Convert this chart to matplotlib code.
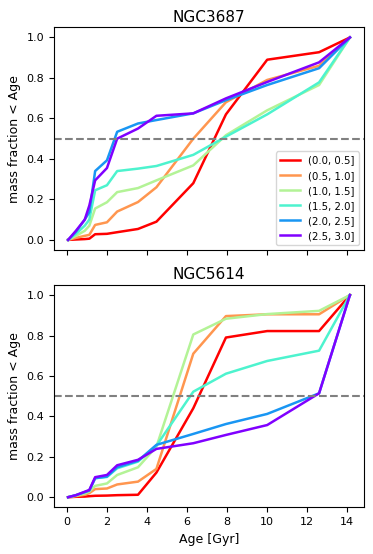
import matplotlib
matplotlib.use("Agg")
import matplotlib.pyplot as plt
import numpy as np

# age grid (Gyr)
ages = np.array([0.06, 0.45, 0.89, 1.12, 1.41, 2.0, 2.51, 3.55, 4.47, 6.31, 7.94, 10.0, 12.59, 14.13])

bins = ['(0.0, 0.5]', '(0.5, 1.0]', '(1.0, 1.5]', '(1.5, 2.0]', '(2.0, 2.5]', '(2.5, 3.0]']

# NGC3687 cumulative mass fractions
ngc3687 = [
    [0, 0.002, 0.004, 0.006, 0.028, 0.03, 0.038, 0.054, 0.09, 0.28, 0.62, 0.89, 0.927, 1.0],
    [0, 0.01, 0.02, 0.025, 0.074, 0.087, 0.14, 0.187, 0.26, 0.50, 0.68, 0.79, 0.86, 1.0],
    [0, 0.02, 0.045, 0.07, 0.155, 0.186, 0.236, 0.256, 0.294, 0.368, 0.517, 0.64, 0.765, 1.0],
    [0, 0.03, 0.07, 0.10, 0.245, 0.27, 0.34, 0.352, 0.365, 0.42, 0.51, 0.62, 0.778, 1.0],
    [0, 0.04, 0.10, 0.137, 0.34, 0.393, 0.534, 0.575, 0.592, 0.625, 0.69, 0.765, 0.848, 1.0],
    [0, 0.045, 0.10, 0.17, 0.294, 0.355, 0.50, 0.55, 0.613, 0.625, 0.699, 0.78, 0.877, 1.0],
]

# NGC5614 cumulative mass fractions
ngc5614 = [
    [0, 0.002, 0.003, 0.005, 0.007, 0.008, 0.01, 0.012, 0.122, 0.44, 0.79, 0.822, 0.822, 1.0],
    [0, 0.005, 0.012, 0.02, 0.04, 0.043, 0.063, 0.077, 0.14, 0.71, 0.896, 0.905, 0.905, 1.0],
    [0, 0.008, 0.018, 0.028, 0.056, 0.068, 0.11, 0.148, 0.25, 0.805, 0.883, 0.906, 0.922, 1.0],
    [0, 0.01, 0.025, 0.033, 0.094, 0.10, 0.143, 0.176, 0.255, 0.522, 0.611, 0.674, 0.725, 1.0],
    [0, 0.01, 0.025, 0.033, 0.094, 0.102, 0.148, 0.18, 0.259, 0.313, 0.362, 0.412, 0.514, 1.0],
    [0, 0.01, 0.027, 0.036, 0.099, 0.11, 0.158, 0.185, 0.239, 0.267, 0.308, 0.357, 0.514, 1.0],
]

galaxies = ['NGC3687', 'NGC5614']
colors = plt.cm.rainbow(np.linspace(1, 0, 6))

fig = plt.figure(figsize=(3.73, 5.54), dpi=100)
ax1 = fig.add_axes([0.1448, 0.5487, 0.8311, 0.402])
ax2 = fig.add_axes([0.1448, 0.0843, 0.8311, 0.4013], sharex=ax1)

for ax, name, data in zip([ax1, ax2], galaxies, [ngc3687, ngc5614]):
    for i in range(len(bins)):
        ax.plot(ages, data[i], color=colors[i], lw=1.8, label=bins[i])
    ax.axhline(0.5, color='gray', ls='--', lw=1.5)
    ax.set_title(name, fontsize=11, pad=4)
    ax.set_ylabel('mass fraction < Age', fontsize=9)
    ax.tick_params(labelsize=8)
    ax.set_yticks([0.0, 0.2, 0.4, 0.6, 0.8, 1.0])

ax1.tick_params(labelbottom=False)
ax1.legend(loc='lower right', fontsize=7.3)
ax2.set_xlabel('Age [Gyr]', fontsize=9)
ax2.set_xticks([0, 2, 4, 6, 8, 10, 12, 14])

fig.savefig('out.png', dpi=100)
